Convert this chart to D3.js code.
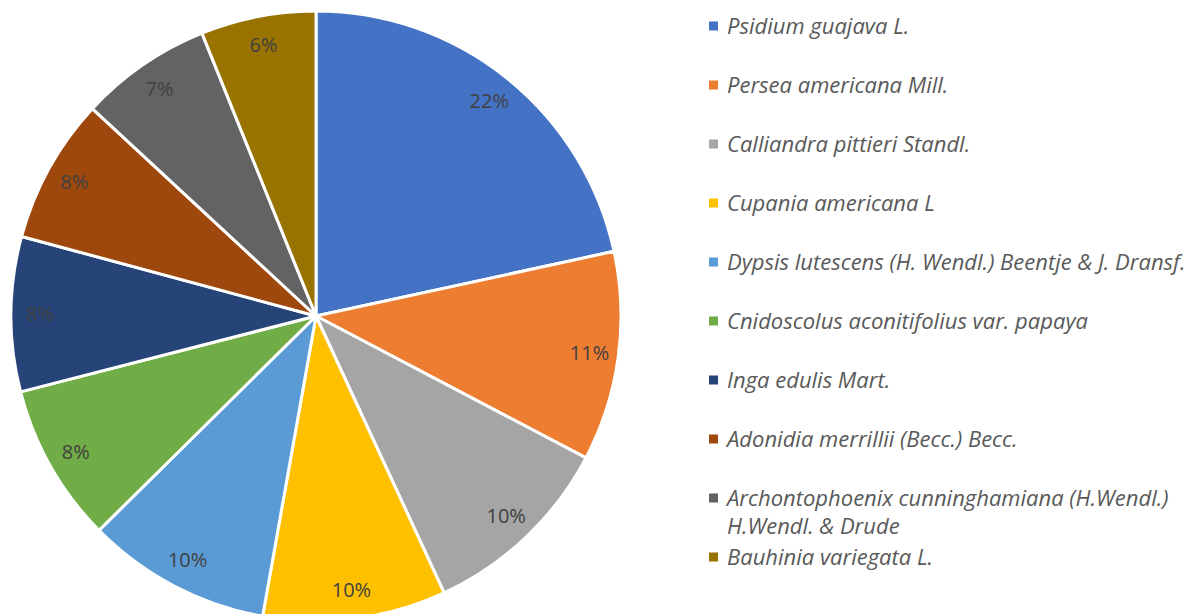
<!DOCTYPE html>
<html>
<head>
<meta charset="utf-8">
<script src="https://cdn.jsdelivr.net/npm/d3@7"></script>
<style>
  body { margin: 0; background: #fff; }
  svg { display: block; }
</style>
</head>
<body>
<svg id="chart" width="1194" height="614"></svg>
<script>
const svg = d3.select("#chart");

// species names (legend order = slice order, clockwise from 12 o'clock)
const species = [
  "Psidium guajava L.",
  "Persea americana Mill.",
  "Calliandra pittieri Standl.",
  "Cupania americana L",
  "Dypsis lutescens (H. Wendl.) Beentje & J. Dransf.",
  "Cnidoscolus aconitifolius var. papaya",
  "Inga edulis Mart.",
  "Adonidia merrillii (Becc.) Becc.",
  "Archontophoenix cunninghamiana (H.Wendl.) H.Wendl. & Drude",
  "Bauhinia variegata L."
];

// share of each species (percent)
const shares = [21.6, 11.1, 10.4, 9.7, 9.8, 8.4, 8.2, 7.7, 7.0, 6.1];

const colors = [
  "#4472c4", "#ed7d31", "#a5a5a5", "#ffc000", "#5b9bd5",
  "#70ad47", "#264478", "#9e480e", "#636363", "#997300"
];

// legend lines (long names wrapped like the original)
const legendLines = [
  ["Psidium guajava L."],
  ["Persea americana Mill."],
  ["Calliandra pittieri Standl."],
  ["Cupania americana L"],
  ["Dypsis lutescens (H. Wendl.) Beentje & J. Dransf."],
  ["Cnidoscolus aconitifolius var. papaya"],
  ["Inga edulis Mart."],
  ["Adonidia merrillii (Becc.) Becc."],
  ["Archontophoenix cunninghamiana (H.Wendl.)", "H.Wendl. & Drude"],
  ["Bauhinia variegata L."]
];

const cx = 316, cy = 316, radius = 305;
const total = d3.sum(shares);

const pie = d3.pie().sort(null).value((d) => d);
const arcs = pie(shares);

const arc = d3.arc().innerRadius(0).outerRadius(radius);
const labelArc = d3.arc().innerRadius(276).outerRadius(276);

const g = svg.append("g").attr("transform", `translate(${cx},${cy})`);

g.selectAll("path")
  .data(arcs)
  .enter()
  .append("path")
  .attr("d", arc)
  .attr("fill", (d, i) => colors[i])
  .attr("stroke", "#fff")
  .attr("stroke-width", 3)
  .attr("stroke-linejoin", "round");

g.selectAll("text.pct")
  .data(arcs)
  .enter()
  .append("text")
  .attr("class", "pct")
  .attr("transform", (d) => `translate(${labelArc.centroid(d)})`)
  .attr("text-anchor", "middle")
  .attr("dy", "0.35em")
  .attr("font-family", "'Open Sans', 'Liberation Sans', sans-serif")
  .attr("font-size", 20)
  .attr("fill", "#404040")
  .text((d) => Math.round((d.value / total) * 100) + "%");

// legend
const legendX = 709, legendY0 = 26, rowStep = 59, lineStep = 28;
const legend = svg.append("g");

legendLines.forEach((lines, i) => {
  const y = legendY0 + i * rowStep;
  legend.append("rect")
    .attr("x", legendX)
    .attr("y", y - 4.5)
    .attr("width", 9)
    .attr("height", 9)
    .attr("fill", colors[i]);
  const t = legend.append("text")
    .attr("x", legendX + 18)
    .attr("y", y)
    .attr("font-family", "'Open Sans', 'Liberation Sans', sans-serif")
    .attr("font-style", "italic")
    .attr("font-size", 22)
    .attr("fill", "#595959");
  lines.forEach((line, j) => {
    t.append("tspan")
      .attr("x", legendX + 18)
      .attr("dy", j === 0 ? "0.35em" : lineStep)
      .text(line);
  });
});
</script>
</body>
</html>
